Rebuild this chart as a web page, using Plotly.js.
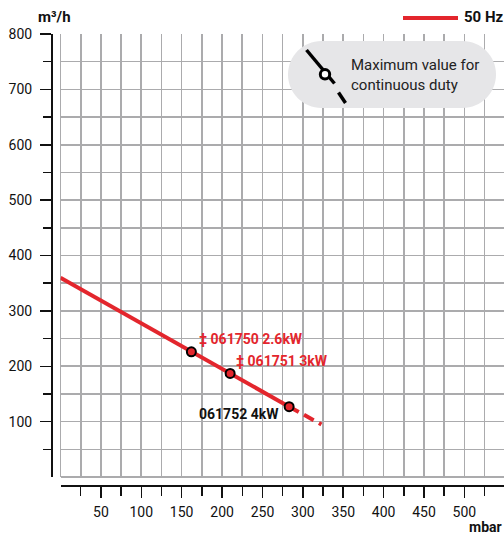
<!DOCTYPE html>
<html>
<head>
<meta charset="utf-8">
<script src="https://cdn.plot.ly/plotly-3.0.1.min.js"></script>
<style>html,body{margin:0;padding:0;background:#fff;}#chart{width:504px;height:534px;}</style>
</head>
<body>
<div id="chart"></div>
<script>
// ---- data ----
const curvePressure = [0, 162, 210, 283];      // mbar
const curveFlow = [360, 226, 187, 127];        // m³/h
const dashPressure = [283, 323];
const dashFlow = [127, 95];
const pointPressure = [162, 210, 283];
const pointFlow = [226, 187, 127];
const pointLabels = ['‡ 061750 2.6kW', '‡ 061751 3kW', '061752 4kW'];
const xTickVals = [50, 100, 150, 200, 250, 300, 350, 400, 450, 500];
const xTickText = ['50', '100', '150', '200', '250', '300', '350', '400', '450', '500'];
const xMinorVals = [25, 75, 125, 175, 225, 275, 325, 375, 425, 475, 525];
const yTickVals = [100, 200, 300, 400, 500, 600, 700, 800];
const yTickText = ['100', '200', '300', '400', '500', '600', '700', '800'];
const yMinorVals = [50, 150, 250, 350, 450, 550, 650, 750];
const seriesName = '50 Hz';
const xTitle = 'mbar';
const yTitle = 'm³/h';
const noteText = 'Maximum value for<br>continuous duty';

// ---- style ----
const RED = '#e3262d';
const GRID = '#ababad';
const INK = '#111111';
const W = 504, H = 534;
const M = {l: 51, r: 0, t: 34, b: 49};
const PW = W - M.l - M.r, PH = H - M.t - M.b;
const px = v => (v - M.l) / PW;
const py = v => (H - M.b - v) / PH;

function pill(x0, y0, x1, y1) {
  const r = (y1 - y0) / 2, k = 0.5523 * r, cy = (y0 + y1) / 2;
  const a = x0 + r, b = x1 - r;
  const P = (x, y) => px(x).toFixed(5) + ',' + py(y).toFixed(5);
  return 'M' + P(a, y0) + ' L' + P(b, y0) +
    ' C' + P(b + k, y0) + ' ' + P(x1, cy - k) + ' ' + P(x1, cy) +
    ' C' + P(x1, cy + k) + ' ' + P(b + k, y1) + ' ' + P(b, y1) +
    ' L' + P(a, y1) +
    ' C' + P(a - k, y1) + ' ' + P(x0, cy + k) + ' ' + P(x0, cy) +
    ' C' + P(x0, cy - k) + ' ' + P(a - k, y0) + ' ' + P(a, y0) + ' Z';
}

const traces = [
  {x: curvePressure, y: curveFlow, mode: 'lines', name: seriesName,
   line: {color: RED, width: 4}, hoverinfo: 'skip'},
  {x: dashPressure, y: dashFlow, mode: 'lines', showlegend: false,
   line: {color: RED, width: 4, dash: '11px,6px'}, hoverinfo: 'skip'},
  {x: pointPressure, y: pointFlow, mode: 'markers', showlegend: false,
   marker: {symbol: 'circle', size: 9, color: RED, line: {color: '#000', width: 2}}, hoverinfo: 'skip'}
];

const labelStyle = [
  {color: RED, xanchor: 'left', xshift: 6, yshift: 13},
  {color: RED, xanchor: 'left', xshift: 4, yshift: 12},
  {color: INK, xanchor: 'right', xshift: -8, yshift: -7}
];

const annotations = pointLabels.map((t, i) => ({
  x: pointPressure[i], y: pointFlow[i], xref: 'x', yref: 'y', text: '<b>' + t + '</b>',
  showarrow: false, xanchor: labelStyle[i].xanchor, yanchor: 'middle',
  xshift: labelStyle[i].xshift, yshift: labelStyle[i].yshift,
  font: {family: 'Roboto', size: 14, color: labelStyle[i].color}
}));
annotations.push(
  {xref: 'paper', yref: 'paper', x: px(36), y: py(17), xanchor: 'left', yanchor: 'middle',
   text: '<b>' + yTitle + '</b>', showarrow: false, font: {family: 'Roboto', size: 15, color: INK}},
  {xref: 'paper', yref: 'paper', x: 1, y: py(527), xanchor: 'right', yanchor: 'middle',
   text: '<b>' + xTitle + '</b>', showarrow: false, font: {family: 'Roboto', size: 14, color: INK}},
  {xref: 'paper', yref: 'paper', x: px(462), y: py(17.5), xanchor: 'left', yanchor: 'middle',
   text: '<b>' + seriesName + '</b>', showarrow: false, font: {family: 'Roboto', size: 15, color: INK}},
  {xref: 'paper', yref: 'paper', x: px(349), y: py(75), xanchor: 'left', yanchor: 'middle', align: 'left',
   text: noteText, showarrow: false, font: {family: 'Roboto', size: 15, color: '#222'}}
);

const shapes = [
  {type: 'line', xref: 'paper', yref: 'paper', x0: px(403), x1: px(458), y0: py(18), y1: py(18),
   line: {color: RED, width: 4}},
  {type: 'path', xref: 'paper', yref: 'paper', path: pill(288, 41, 496, 108),
   fillcolor: '#e6e6e8', line: {width: 0}, layer: 'above'},
  {type: 'line', xref: 'paper', yref: 'paper', x0: px(306.5), y0: py(50), x1: px(334.5), y1: py(83.5),
   line: {color: '#000', width: 3.5}, layer: 'above'},
  {type: 'line', xref: 'paper', yref: 'paper', x0: px(338.5), y0: py(92.5), x1: px(345.5), y1: py(103),
   line: {color: '#000', width: 3.5}, layer: 'above'},
  {type: 'circle', xref: 'paper', yref: 'paper', x0: px(320.3), x1: px(329.7), y0: py(69.6), y1: py(79),
   fillcolor: '#fff', line: {color: '#000', width: 3}, layer: 'above'}
];

const axisCommon = {
  anchor: 'free', position: 0, tickmode: 'array',
  ticks: 'outside', ticklen: 11, tickwidth: 1.5, tickcolor: INK,
  showline: true, linecolor: INK, linewidth: 1.5,
  showgrid: true, gridcolor: GRID, gridwidth: 1.6,
  zeroline: true, zerolinecolor: GRID, zerolinewidth: 1.6,
  tickfont: {family: 'Roboto', size: 14, color: INK},
  fixedrange: true
};

const layout = {
  width: W, height: H, margin: {l: M.l, r: M.r, t: M.t, b: M.b, pad: 0},
  paper_bgcolor: '#fff', plot_bgcolor: '#fff', showlegend: false,
  font: {family: 'Roboto', size: 14, color: INK},
  xaxis: Object.assign({}, axisCommon, {
    domain: [9.5 / PW, 1], range: [0, 549],
    tickvals: xTickVals, ticktext: xTickText, ticklabelstandoff: 3,
    minor: {tickmode: 'array', tickvals: xMinorVals, ticks: 'outside', ticklen: 9, tickwidth: 1.5,
            tickcolor: INK, showgrid: true, gridcolor: GRID, gridwidth: 1.6}
  }),
  yaxis: Object.assign({}, axisCommon, {
    domain: [8 / PH, 1], range: [0, 800],
    tickvals: yTickVals, ticktext: yTickText, ticklabelstandoff: 5,
    minor: {tickmode: 'array', tickvals: yMinorVals, ticks: 'outside', ticklen: 8, tickwidth: 1.5,
            tickcolor: INK, showgrid: true, gridcolor: GRID, gridwidth: 1.6}
  }),
  annotations: annotations,
  shapes: shapes
};

Plotly.newPlot('chart', traces, layout, {displayModeBar: false, staticPlot: true});
</script>
</body>
</html>
